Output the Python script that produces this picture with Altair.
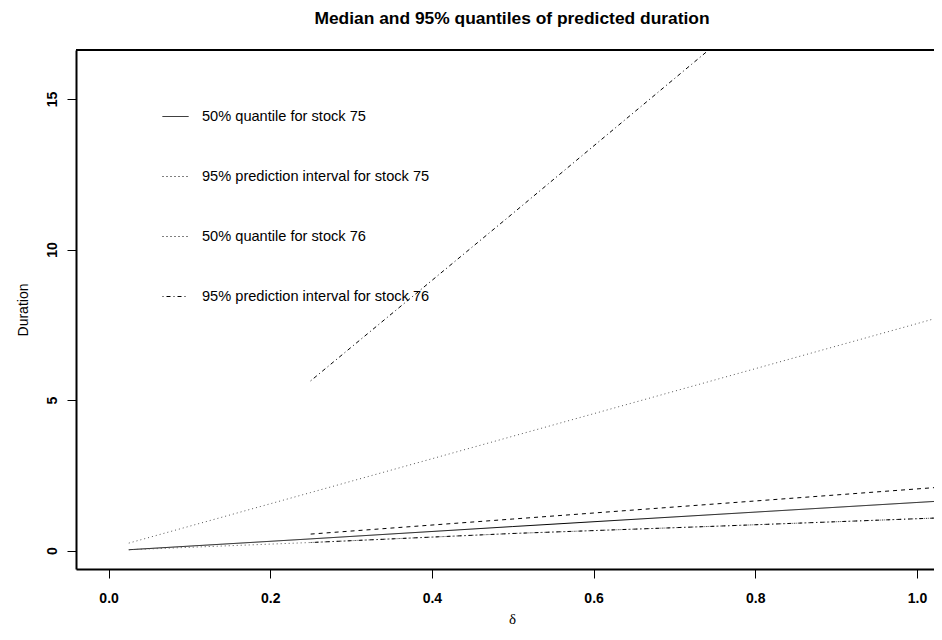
import altair as alt
import pandas as pd

# ---- data ----
x_75 = [0.025, 0.25, 0.5, 0.75, 1.0, 1.05]
median_75 = [0.03, 0.39, 0.80, 1.20, 1.60, 1.68]
upper_75 = [0.25, 1.93, 3.80, 5.67, 7.54, 7.92]
lower_75 = [0.03, 0.27, 0.57, 0.81, 1.06, 1.11]

x_76 = [0.25, 0.5, 0.75, 1.0, 1.05]
median_76 = [0.55, 1.05, 1.55, 2.05, 2.15]
upper_76 = [5.64, 11.2, 16.8, 22.4, 23.5]
lower_76 = [0.27, 0.57, 0.81, 1.06, 1.11]

legend_labels = [
    "50% quantile for stock 75",
    "95% prediction interval for stock 75",
    "50% quantile for stock 76",
    "95% prediction interval for stock 76",
]
x_ticks = [0.0, 0.2, 0.4, 0.6, 0.8, 1.0]
y_ticks = [0, 5, 10, 15]

SOLID = [1, 0]
DOTTED = [1, 3]
DASHED = [4, 4]
DOTDASH = [1, 3, 4, 3]

series = [
    ("median_75", x_75, median_75, SOLID, "black"),
    ("upper_75", x_75, upper_75, DOTTED, "#555555"),
    ("lower_75", x_75, lower_75, DOTTED, "#555555"),
    ("median_76", x_76, median_76, DASHED, "black"),
    ("upper_76", x_76, upper_76, DOTDASH, "black"),
    ("lower_76", x_76, lower_76, DOTDASH, "black"),
]

rows = []
for name, xs, ys, _, _ in series:
    for xv, yv in zip(xs, ys):
        rows.append({"series": name, "x": xv, "y": yv})
df = pd.DataFrame(rows)

FONT = "Liberation Sans"
W, H = 858, 519

x_enc = alt.X(
    "x:Q",
    scale=alt.Scale(domain=[-0.0403, 1.0211], nice=False, zero=False),
    axis=alt.Axis(
        values=x_ticks, format=".1f", grid=False,
        domainColor="black", domainWidth=2,
        tickColor="black", tickWidth=1, tickSize=9,
        labelFont=FONT, labelFontSize=14, labelFontWeight="bold",
        labelColor="black", labelPadding=13, labelFlush=False,
        title="δ", titleFont="Liberation Serif", titleFontSize=15,
        titleFontWeight="normal", titleColor="black",
        titleX=436, titleY=49, titleBaseline="middle", titleAlign="center",
    ),
)
y_enc = alt.Y(
    "y:Q",
    scale=alt.Scale(domain=[-0.61, 16.63], nice=False, zero=False),
    axis=alt.Axis(
        values=y_ticks, format="d", grid=False,
        domainColor="black", domainWidth=2,
        tickColor="black", tickWidth=1, tickSize=9,
        labelFont=FONT, labelFontSize=14, labelFontWeight="bold",
        labelColor="black", labelPadding=11, labelAngle=270,
        labelAlign="center", labelBaseline="alphabetic",
        title="Duration", titleFont=FONT, titleFontSize=14,
        titleFontWeight="normal", titleColor="black",
        titleX=-53, titleY=259.5, titleAngle=270,
        titleBaseline="middle", titleAlign="center",
    ),
)

layers = []
for name, _, _, dash, col in series:
    layers.append(
        alt.Chart(df)
        .transform_filter(alt.datum.series == name)
        .mark_line(color=col, strokeWidth=1, strokeDash=dash, clip=True)
        .encode(x=x_enc, y=y_enc)
    )

legend_df = pd.DataFrame({"label": legend_labels, "x": [None] * 4, "y": [None] * 4})
legend_layer = (
    alt.Chart(legend_df)
    .mark_line(color="black", strokeWidth=1)
    .encode(
        x=x_enc,
        y=y_enc,
        strokeDash=alt.StrokeDash(
            "label:N",
            scale=alt.Scale(domain=legend_labels, range=[SOLID, DOTTED, DOTTED, DOTDASH]),
            legend=alt.Legend(
                orient="none", legendX=86, legendY=53, title=None,
                symbolType="stroke", symbolSize=676, symbolStrokeWidth=1,
                symbolStrokeColor="black",
                labelFont=FONT, labelFontSize=14.6, labelColor="black",
                labelOffset=13, labelLimit=500, rowPadding=39, padding=0,
            ),
        ),
    )
)

top_rule = alt.Chart(df).mark_rule(color="black", strokeWidth=2).encode(
    x=alt.value(0), x2=alt.value(W), y=alt.value(0)
)

chart = (
    alt.layer(*layers, legend_layer, top_rule)
    .properties(
        width=W,
        height=H,
        padding={"left": 68, "top": 42, "right": 0, "bottom": 58},
        autosize=alt.AutoSizeParams(type="none"),
        title=alt.TitleParams(
            "Median and 95% quantiles of predicted duration",
            font=FONT, fontSize=17.4, fontWeight="bold", color="black",
            anchor="middle", dx=7, offset=22, frame="group",
        ),
        background="white",
    )
    .configure_view(stroke="transparent")
)

chart.save("out.html", embed_options={"renderer": "svg", "actions": False})
